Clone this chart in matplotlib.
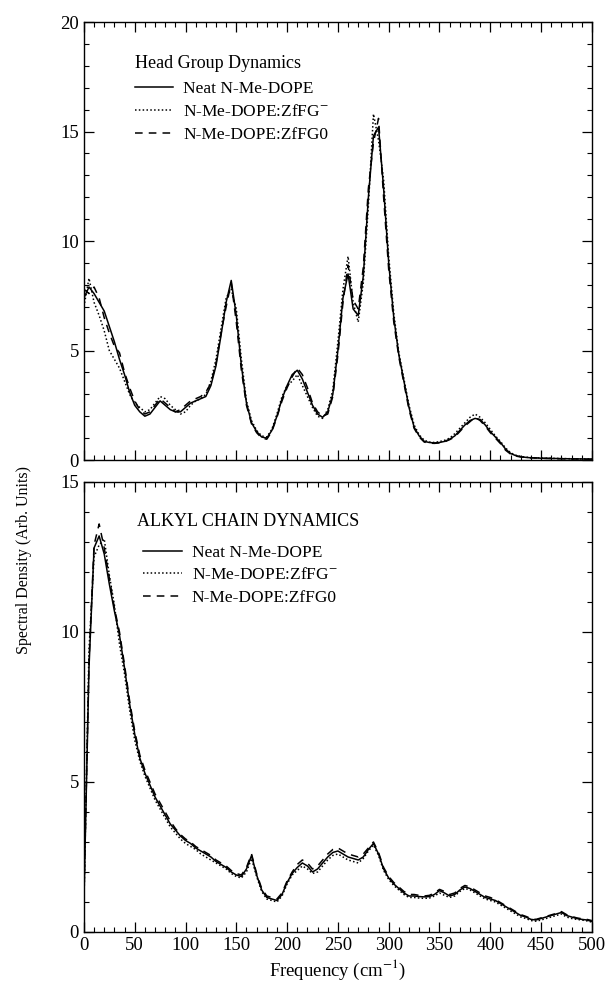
import numpy as np
import matplotlib
matplotlib.use("Agg")
import matplotlib.pyplot as plt
from matplotlib.ticker import MultipleLocator

plt.rcParams["font.family"] = ["Liberation Serif", "DejaVu Serif"]
plt.rcParams["mathtext.fontset"] = "stix"

# frequency grid (cm^-1)
freq = np.arange(0, 501, 5)

labels = ["Neat N-Me-DOPE", "N-Me-DOPE:ZfFG$^{-}$", "N-Me-DOPE:ZfFG0"]
styles = ["-", (0, (1, 1.5)), (0, (5, 4))]

# ---------- head group spectra ----------
head_neat = [
    7.4, 7.9, 7.6, 7.2, 6.8, 6.1, 5.4, 4.6, 3.9, 3.1, 2.5, 2.2, 2.0, 2.1, 2.4, 2.7, 2.5, 2.3, 2.2, 2.2,
    2.4, 2.6, 2.7, 2.8, 2.9, 3.4, 4.3, 5.7, 7.2, 8.2, 6.6, 4.3, 2.6, 1.7, 1.3, 1.05, 1.0, 1.35, 2.0, 2.8,
    3.4, 3.9, 4.1, 3.7, 3.1, 2.5, 2.1, 1.95, 2.2, 3.0, 5.0, 7.4, 8.5, 6.9, 6.6, 8.4, 12.0, 14.8, 15.2, 12.4,
    9.0, 6.5, 4.8, 3.6, 2.4, 1.5, 1.1, 0.85, 0.8, 0.78, 0.8, 0.85, 0.95, 1.1, 1.35, 1.6, 1.8, 1.9, 1.85, 1.6,
    1.3, 1.05, 0.8, 0.5, 0.3, 0.2, 0.15, 0.12, 0.1, 0.1, 0.08, 0.08, 0.07, 0.07, 0.06, 0.06, 0.05, 0.05, 0.05, 0.04,
    0.04,
]
head_zffg_minus = [
    7.0, 8.3, 7.2, 6.6, 5.9, 5.0, 4.6, 4.2, 3.6, 3.0, 2.6, 2.4, 2.2, 2.3, 2.6, 2.9, 2.8, 2.5, 2.3, 2.1,
    2.2, 2.5, 2.7, 2.8, 3.0, 3.6, 4.6, 6.0, 7.4, 7.8, 6.9, 4.6, 2.7, 1.8, 1.35, 1.1, 1.05, 1.4, 2.1, 2.9,
    3.4, 3.6, 3.9, 3.4, 2.9, 2.4, 2.0, 1.9, 2.3, 3.2, 5.4, 7.8, 9.3, 7.2, 6.3, 8.1, 11.6, 15.8, 14.6, 12.8,
    9.3, 6.7, 4.9, 3.7, 2.5, 1.6, 1.15, 0.9, 0.82, 0.8, 0.84, 0.9, 1.0, 1.2, 1.45, 1.7, 1.95, 2.1, 1.95, 1.7,
    1.4, 1.1, 0.85, 0.55, 0.33, 0.22, 0.16, 0.13, 0.11, 0.1, 0.09, 0.08, 0.08, 0.07, 0.07, 0.06, 0.06, 0.05, 0.05, 0.05,
    0.04,
]
head_zffg0 = [
    7.8, 7.6, 7.9, 7.4, 6.5, 5.8, 5.2, 4.9, 4.0, 3.3, 2.7, 2.3, 2.1, 2.2, 2.5, 2.8, 2.6, 2.4, 2.2, 2.3,
    2.5, 2.7, 2.8, 2.9, 3.1, 3.5, 4.4, 5.8, 7.0, 8.1, 6.3, 4.1, 2.5, 1.65, 1.25, 1.0, 0.95, 1.3, 1.95, 2.7,
    3.3, 3.8, 4.2, 3.9, 3.3, 2.6, 2.2, 2.0, 2.1, 2.9, 4.8, 7.2, 8.9, 7.3, 6.9, 8.8, 12.4, 14.5, 15.6, 12.0,
    8.7, 6.3, 4.7, 3.5, 2.3, 1.45, 1.05, 0.82, 0.77, 0.76, 0.78, 0.83, 0.93, 1.05, 1.3, 1.55, 1.75, 1.95, 1.8, 1.55,
    1.25, 1.0, 0.75, 0.45, 0.27, 0.18, 0.14, 0.11, 0.1, 0.09, 0.08, 0.07, 0.07, 0.06, 0.06, 0.05, 0.05, 0.05, 0.04, 0.04,
    0.04,
]

# ---------- alkyl chain spectra ----------
chain_neat = [
    1.0, 8.8, 12.8, 13.2, 12.6, 11.6, 10.7, 9.9, 8.8, 7.6, 6.6, 5.8, 5.3, 4.9, 4.5, 4.2, 3.9, 3.6, 3.4, 3.2,
    3.05, 2.95, 2.8, 2.7, 2.6, 2.5, 2.35, 2.25, 2.15, 2.0, 1.9, 1.85, 2.1, 2.55, 1.9, 1.4, 1.15, 1.1, 1.05, 1.25,
    1.65, 1.95, 2.15, 2.3, 2.2, 2.0, 2.1, 2.3, 2.5, 2.65, 2.7, 2.6, 2.5, 2.45, 2.4, 2.5, 2.75, 2.95, 2.6, 2.1,
    1.8, 1.6, 1.45, 1.3, 1.2, 1.2, 1.18, 1.17, 1.18, 1.25, 1.38, 1.3, 1.2, 1.25, 1.4, 1.5, 1.45, 1.35, 1.25, 1.15,
    1.1, 1.05, 0.95, 0.85, 0.75, 0.65, 0.55, 0.5, 0.42, 0.4, 0.45, 0.5, 0.55, 0.6, 0.65, 0.55, 0.5, 0.45, 0.42, 0.4,
    0.35,
]
chain_zffg_minus = [
    0.9, 9.4, 12.5, 12.9, 13.1, 11.9, 10.9, 9.6, 8.6, 7.4, 6.4, 5.7, 5.2, 4.8, 4.4, 4.1, 3.8, 3.5, 3.3, 3.1,
    2.95, 2.85, 2.75, 2.6, 2.5, 2.4, 2.3, 2.2, 2.1, 1.95, 1.85, 1.8, 2.0, 2.45, 1.85, 1.35, 1.1, 1.05, 1.0, 1.2,
    1.6, 1.9, 2.05, 2.2, 2.1, 1.95, 2.0, 2.2, 2.4, 2.55, 2.6, 2.5, 2.4, 2.35, 2.3, 2.45, 2.7, 2.9, 2.55, 2.05,
    1.75, 1.55, 1.4, 1.25, 1.15, 1.15, 1.13, 1.12, 1.13, 1.2, 1.3, 1.22, 1.15, 1.2, 1.35, 1.45, 1.4, 1.3, 1.2, 1.1,
    1.05, 1.0, 0.9, 0.8, 0.7, 0.6, 0.5, 0.45, 0.38, 0.36, 0.4, 0.45, 0.5, 0.55, 0.6, 0.5, 0.45, 0.42, 0.4, 0.37,
    0.33,
]
chain_zffg0 = [
    1.1, 9.0, 12.9, 13.6, 12.8, 11.8, 10.8, 10.0, 8.9, 7.7, 6.7, 5.9, 5.4, 5.0, 4.6, 4.3, 4.0, 3.7, 3.45, 3.25,
    3.1, 3.0, 2.85, 2.75, 2.65, 2.55, 2.4, 2.3, 2.2, 2.05, 1.95, 1.9, 2.15, 2.6, 1.95, 1.45, 1.2, 1.15, 1.1, 1.3,
    1.7, 2.0, 2.25, 2.4, 2.3, 2.1, 2.2, 2.4, 2.6, 2.75, 2.8, 2.7, 2.6, 2.55, 2.5, 2.6, 2.8, 3.0, 2.65, 2.15,
    1.85, 1.65, 1.5, 1.35, 1.25, 1.25, 1.22, 1.2, 1.22, 1.3, 1.42, 1.35, 1.25, 1.3, 1.45, 1.55, 1.5, 1.4, 1.3, 1.2,
    1.15, 1.08, 0.98, 0.88, 0.78, 0.68, 0.58, 0.52, 0.45, 0.42, 0.47, 0.52, 0.57, 0.62, 0.68, 0.58, 0.52, 0.47, 0.44, 0.42,
    0.38,
]

for s in [head_neat, head_zffg_minus, head_zffg0, chain_neat, chain_zffg_minus, chain_zffg0]:
    assert len(s) == len(freq), len(s)


def draw_panel(ax, series, title, ymax, title_pos, legend_pos):
    lines = {}
    # dotted and dashed first so the neat trace sits on top
    for order in [1, 2, 0]:
        (ln,) = ax.plot(freq, series[order], color="black", lw=1.1,
                        linestyle=styles[order], label=labels[order])
        lines[order] = ln

    ax.set_xlim(0, 500)
    ax.set_ylim(0, ymax)
    ax.xaxis.set_major_locator(MultipleLocator(50))
    ax.xaxis.set_minor_locator(MultipleLocator(10))
    ax.yaxis.set_major_locator(MultipleLocator(5))
    ax.yaxis.set_minor_locator(MultipleLocator(1))
    ax.tick_params(which="both", direction="in", top=True, right=True, labelsize=13.5)
    ax.tick_params(which="major", length=7, width=0.9)
    ax.tick_params(which="minor", length=3.5, width=0.8)
    for sp in ax.spines.values():
        sp.set_linewidth(1.0)

    ax.text(title_pos[0], title_pos[1], title, transform=ax.transAxes,
            fontsize=13, va="center", ha="left")
    ax.legend(handles=[lines[0], lines[1], lines[2]], loc="upper left",
              bbox_to_anchor=legend_pos, frameon=False, fontsize=12.5,
              handlelength=2.2, handletextpad=0.6, labelspacing=0.38,
              borderpad=0, borderaxespad=0)


fig = plt.figure(figsize=(6.08, 9.88), dpi=100)
ax_top = fig.add_axes([0.138, 0.5344, 0.8355, 0.4433])
ax_bot = fig.add_axes([0.138, 0.0567, 0.8355, 0.4555])

draw_panel(ax_top, [head_neat, head_zffg_minus, head_zffg0], "Head Group Dynamics",
           20, (0.1, 0.906), (0.1, 0.865))
ax_top.tick_params(labelbottom=False)

draw_panel(ax_bot, [chain_neat, chain_zffg_minus, chain_zffg0], "ALKYL CHAIN DYNAMICS",
           15, (0.105, 0.913), (0.117, 0.861))
ax_bot.set_xlabel("Frequency (cm$^{-1}$)", fontsize=13.5, labelpad=3)

fig.text(0.04, 1 - 560 / 988, "Spectral Density (Arb. Units)", rotation=90,
         va="center", ha="center", fontsize=11.5)

fig.savefig("out.png", dpi=100)
